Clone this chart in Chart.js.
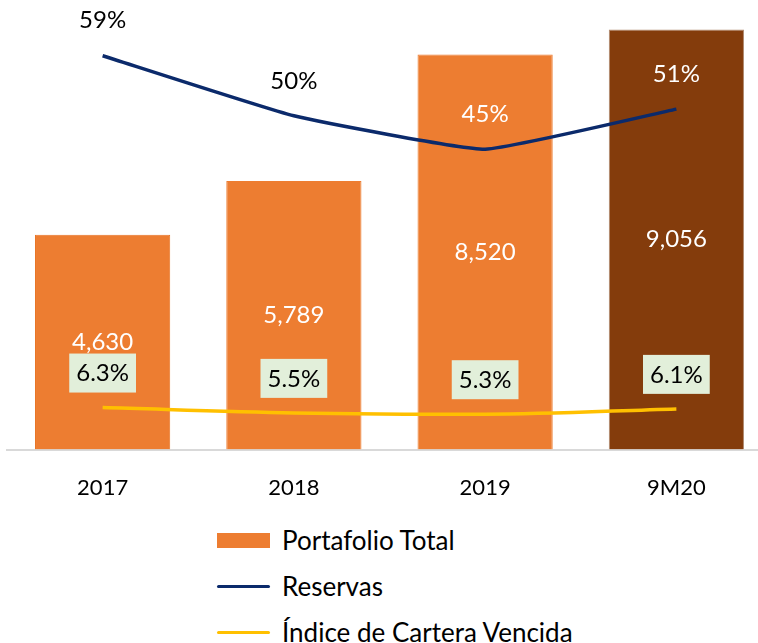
<!DOCTYPE html>
<html>
<head>
<meta charset="utf-8">
<script src="https://cdn.jsdelivr.net/npm/chart.js@4/dist/chart.umd.min.js"></script>
<style>
  body { margin: 0; overflow: hidden; background: #fff; font-family: Lato, sans-serif; }
  #wrap { position: relative; width: 758px; height: 643px; overflow: hidden; }
  #chart { position: absolute; left: 0; top: 0; }
  .leg { position: absolute; left: 217px; font-size: 26px; color: #000; white-space: nowrap; }
  .leg .sw { position: absolute; left: 0; width: 53px; }
  .leg span { position: absolute; left: 65px; top: 0; line-height: 28px; }
</style>
</head>
<body>
<div id="wrap">
  <canvas id="chart" width="772" height="518"></canvas>
  <div class="leg" style="top:526px;"><div class="sw" style="top:7px;height:15px;background:#ED7D31;"></div><span>Portafolio Total</span></div>
  <div class="leg" style="top:572px;"><div class="sw" style="top:13px;height:3px;background:#0B2A6B;border-radius:2px;"></div><span>Reservas</span></div>
  <div class="leg" style="top:618px;"><div class="sw" style="top:13px;height:3px;background:#FFC000;border-radius:2px;"></div><span>Índice de Cartera Vencida</span></div>
</div>
<script>
const categories = ['2017', '2018', '2019', '9M20'];
const portafolio = [4630, 5789, 8520, 9056];
const reservas = [59, 50, 45, 51];
const indiceVencida = [6.3, 5.5, 5.3, 6.1];
const barColors = ['#ED7D31', '#ED7D31', '#ED7D31', '#843C0C'];
const barBorders = ['#E87324', '#ED7D31', '#ED7D31', '#B08A70'];
// colour of the reservas labels: black outside the bars, white inside them
const reservasLabelColors = ['#000', '#000', '#fff', '#fff'];

const labelFont = '24px Lato';

// draws the value labels (no datalabels plugin available offline)
const valueLabels = {
    id: 'valueLabels',
    afterDatasetsDraw(chart) {
        const ctx = chart.ctx;
        ctx.save();
        ctx.font = labelFont;
        ctx.textAlign = 'center';
        ctx.textBaseline = 'middle';

        const barMeta = chart.getDatasetMeta(2);
        barMeta.data.forEach((el, i) => {
            ctx.fillStyle = '#fff';
            ctx.fillText(portafolio[i].toLocaleString('en-US'), el.x, (el.y + el.base) / 2);
        });

        const resMeta = chart.getDatasetMeta(0);
        resMeta.data.forEach((el, i) => {
            ctx.fillStyle = reservasLabelColors[i];
            ctx.fillText(reservas[i] + '%', el.x, el.y - 35);
        });

        const indMeta = chart.getDatasetMeta(1);
        indMeta.data.forEach((el, i) => {
            const txt = indiceVencida[i].toFixed(1) + '%';
            const w = ctx.measureText(txt).width + 14;
            const cy = el.y - 35;
            ctx.fillStyle = '#E2EFDA';
            ctx.fillRect(el.x - w / 2, cy - 19, w, 39);
            ctx.fillStyle = '#000';
            ctx.fillText(txt, el.x, cy + 1);
        });
        ctx.restore();
    }
};

new Chart('chart', {
    type: 'bar',
    data: {
        labels: categories,
        datasets: [{
            type: 'line',
            label: 'Reservas',
            data: reservas,
            yAxisID: 'yPct',
            borderColor: '#0B2A6B',
            borderWidth: 3.5,
            pointRadius: 0,
            tension: 0.12,
            order: 0
        }, {
            type: 'line',
            label: 'Índice de Cartera Vencida',
            data: indiceVencida,
            yAxisID: 'yPct',
            borderColor: '#FFC000',
            borderWidth: 3.5,
            pointRadius: 0,
            cubicInterpolationMode: 'monotone',
            tension: 0.4,
            order: 0
        }, {
            label: 'Portafolio Total',
            data: portafolio,
            yAxisID: 'y',
            backgroundColor: barColors,
            borderColor: barBorders,
            borderWidth: 1,
            categoryPercentage: 0.707,
            barPercentage: 1,
            order: 1
        }]
    },
    options: {
        responsive: false,
        animation: false,
        layout: { padding: { left: 7, top: 9, right: 0, bottom: 0 } },
        plugins: {
            legend: { display: false },
            tooltip: { enabled: false }
        },
        scales: {
            x: {
                grid: { display: false },
                border: { display: true, color: '#D9D9D9', width: 2 },
                ticks: { color: '#000', font: { family: 'Lato', size: 22 }, padding: 17 }
            },
            y: { display: false, min: 0, max: 9500 },
            yPct: { display: false, min: 0, max: 66 }
        }
    },
    plugins: [valueLabels]
});
</script>
</body>
</html>
